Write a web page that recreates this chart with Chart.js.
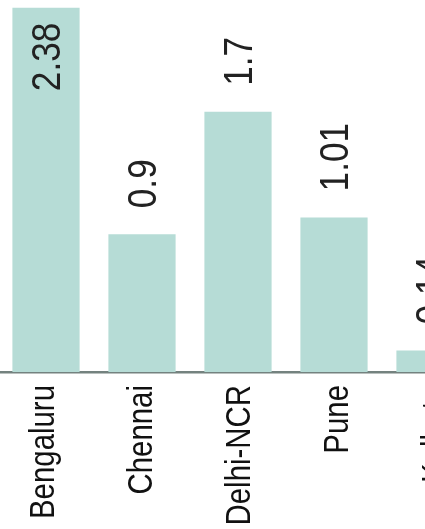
<!DOCTYPE html>
<html>
<head>
<meta charset="utf-8">
<script src="https://cdn.jsdelivr.net/npm/chart.js@4"></script>
<style>
  html, body { margin: 0; padding: 0; background: #fff; overflow: hidden; }
  #wrap { position: relative; width: 425px; height: 529px; overflow: hidden; }
  #chartBox { position: absolute; left: -2px; top: 0; width: 480px; height: 529px; }
</style>
</head>
<body>
<div id="wrap">
  <div id="chartBox"><canvas id="myChart"></canvas></div>
</div>
<script>
// cities and values (last bar is cut off at the edge)
let cities = ['Bengaluru', 'Chennai', 'Delhi-NCR', 'Pune', 'Kolkata'];
let values = [2.38, 0.9, 1.7, 1.01, 0.14];

let fontFam = '"Liberation Sans", Arial, sans-serif';

// rotated text, squeezed a bit along its length (no narrow font installed)
function drawUp(ctx, txt, x, y, align, squeeze) {
  ctx.save();
  ctx.translate(x, y);
  ctx.rotate(-Math.PI / 2);
  ctx.scale(squeeze, 1);
  ctx.textAlign = align;
  ctx.fillText(txt, 0, 0);
  ctx.restore();
}

// city names under the axis and numbers above each bar
let labelsPlugin = {
  id: 'labelsPlugin',
  afterDatasetsDraw(chart) {
    let ctx = chart.ctx;
    let xs = chart.scales.x;
    let meta = chart.getDatasetMeta(0);
    ctx.save();
    ctx.textBaseline = 'middle';

    ctx.font = '35px ' + fontFam;
    ctx.fillStyle = '#111';
    cities.forEach(function (c, i) {
      // names sit a touch further apart than the bars in the original
      let drift = (i - 1) * 2;
      drawUp(ctx, c, xs.getPixelForValue(i) + drift, xs.top + 13, 'right', 0.84);
    });

    ctx.font = '40px ' + fontFam;
    ctx.fillStyle = '#222';
    meta.data.forEach(function (bar, i) {
      let txt = String(values[i]);
      let w = ctx.measureText(txt).width * 0.88;
      let y = bar.y - 26;
      let align = 'left';
      if (y - w < chart.chartArea.top + 4) {
        y = bar.y + 15;
        align = 'right';
      }
      drawUp(ctx, txt, bar.x + 2.5, y, align, 0.88);
    });
    ctx.restore();
  }
};

var ctx = document.getElementById('myChart').getContext('2d');
var myChart = new Chart(ctx, {
  type: 'bar',
  data: {
    labels: cities,
    datasets: [{
      data: values,
      backgroundColor: '#b6dcd6',
      borderWidth: 0,
      categoryPercentage: 1,
      barPercentage: 0.7
    }]
  },
  options: {
    responsive: true,
    maintainAspectRatio: false,
    animation: false,
    layout: { padding: 0 },
    plugins: {
      legend: { display: false },
      tooltip: { enabled: false }
    },
    scales: {
      x: {
        grid: { display: false, drawTicks: false },
        border: { display: true, color: '#74827f', width: 2.5 },
        ticks: { display: false },
        afterFit: function (s) {
          s.height = 157;
          s.paddingLeft = 0;
          s.paddingRight = 0;
        }
      },
      y: {
        display: false,
        min: 0,
        max: 2.43
      }
    }
  },
  plugins: [labelsPlugin]
});
</script>
</body>
</html>
